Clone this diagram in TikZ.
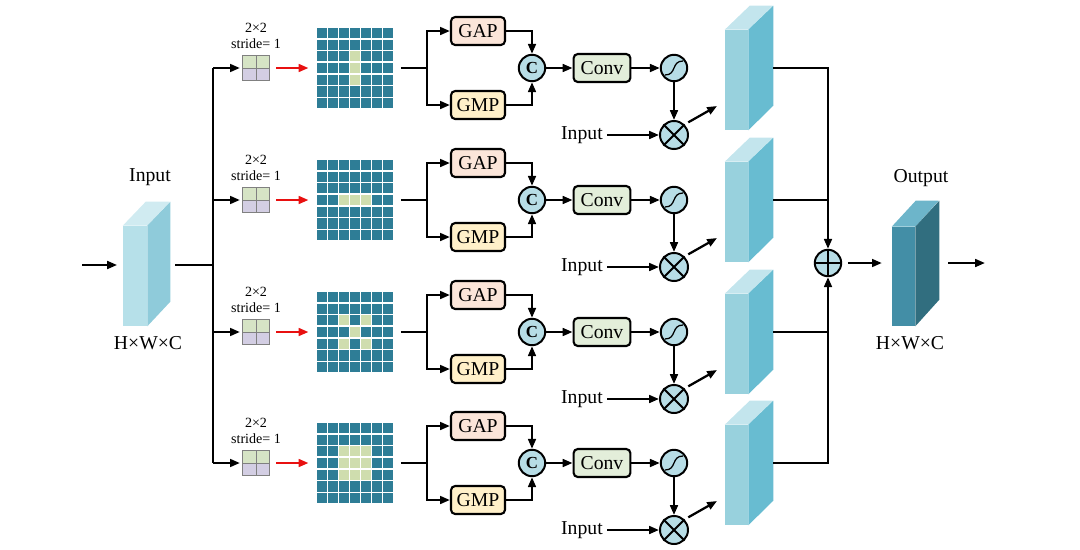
\documentclass[tikz,border=0pt]{standalone}
\usepackage{fontspec}
\setmainfont{Liberation Serif}
\usepackage{xcolor}
\usetikzlibrary{arrows.meta,calc}

\definecolor{gridteal}{HTML}{2E7D96}
\definecolor{hlgreen}{HTML}{CFDDAE}
\definecolor{circfill}{HTML}{B7DDE6}
\definecolor{gapfill}{HTML}{FBE5D9}
\definecolor{gmpfill}{HTML}{FFF0C9}
\definecolor{convfill}{HTML}{E3EEDA}
\definecolor{kertop}{HTML}{D6E4C5}
\definecolor{kerbot}{HTML}{D3CEE3}
\definecolor{inFront}{HTML}{B6E0E9}
\definecolor{inSide}{HTML}{8FCBDA}
\definecolor{inTop}{HTML}{D0EBF1}
\definecolor{featFront}{HTML}{98D1DD}
\definecolor{featSide}{HTML}{68BCD1}
\definecolor{featTop}{HTML}{C3E5ED}
\definecolor{outFront}{HTML}{438EA6}
\definecolor{outSide}{HTML}{316E7F}
\definecolor{outTop}{HTML}{6DB5CA}
\definecolor{redarrow}{HTML}{E81010}

\begin{document}
\begin{tikzpicture}[x=0.025cm,y=-0.025cm]
	\tikzstyle{every node}+=[inner sep=0pt, font=\fontsize{14}{16}\selectfont]
	\tikzstyle{ln}=[line width=1.6pt]
	\tikzstyle{arr}=[ln, -{Triangle[length=7pt,width=5.5pt]}]
	\tikzstyle{opbox}=[draw, line width=1.5pt, rounded corners=3pt, minimum width=1.35cm, minimum height=0.7cm]
	\tikzstyle{opcirc}=[draw, circle, line width=1.4pt, fill=circfill, minimum size=0.66cm]
	\tikzstyle{front}=[minimum width=0.575cm, minimum height=2.5cm]
	\tikzstyle{kernel}=[minimum width=0.65cm, minimum height=0.6cm]
	\tikzstyle{small}=[font=\fontsize{10}{11}\selectfont]
	\useasboundingbox (0,0) rectangle (1080,549);

	% input tensor
	\node[front, minimum width=0.6cm, fill=inFront] (inb) at (135,276) {};
	\fill[inTop] (inb.north west) -- ++(23,-24) -- ++(24,0) -- (inb.north east) -- cycle;
	\fill[inSide] (inb.north east) -- ++(23,-24) -- ++(0,100) -- (inb.south east) -- cycle;
	\node (inlab) at (150,177) {Input};
	\node (indim) at (148,343) {H×W×C};
	\coordinate (src) at (82,265);
	\coordinate (bus) at (213,265);
	\draw[arr, shorten >=4pt] (src) -- (src -| inb.west);
	\draw[ln] ($(bus -| inb.east)+(28,0)$) -- (bus);

	% four branches
	\foreach \i/\y/\hl in {0/68/{3/2,3/3,3/4},
	                       1/200/{2/3,3/3,4/3},
	                       2/332/{2/2,4/2,3/3,2/4,4/4},
	                       3/463/{2/2,3/2,4/2,2/3,3/3,4/3,2/4,3/4,4/4}} {
		\coordinate (b\i) at (213,\y);
		% 2x2 kernel
		\node[kernel] (k\i) at (256,\y) {};
		\fill[kertop] (k\i.north west) rectangle (k\i.east);
		\fill[kerbot] (k\i.west) rectangle (k\i.south east);
		\draw[gray, line width=0.6pt] (k\i.north west) rectangle (k\i.south east);
		\draw[gray, line width=0.6pt] (k\i.north) -- (k\i.south) (k\i.west) -- (k\i.east);
		\node[small] (kt\i) at (256,{\y-40}) {2×2};
		\node[small] (ks\i) at (256,{\y-24}) {stride= 1};
		\draw[arr, shorten >=2pt] (b\i) -- (k\i);
		% dilated grid
		\node[minimum width=1.925cm, minimum height=2.05cm] (g\i) at (355,\y) {};
		\foreach \c in {0,...,6}
			\foreach \r in {0,...,6}
				\fill[gridteal] ({355+(\c-3)*11-4.75},{\y+(\r-3)*11.7-5.1}) rectangle ++(9.5,10.2);
		\foreach \c/\r in \hl
			\fill[hlgreen] ({355+(\c-3)*11-4.75},{\y+(\r-3)*11.7-5.1}) rectangle ++(9.5,10.2);
		\draw[arr, redarrow, shorten <=5pt, shorten >=5.5pt] (k\i) -- (g\i);
		% channel attention
		\coordinate (sp\i) at (427,\y);
		\draw[ln, shorten <=5pt] (g\i) -- (sp\i);
		\node[opbox, fill=gapfill] (gap\i) at (478,{\y-37}) {GAP};
		\node[opbox, fill=gmpfill] (gmp\i) at (478,{\y+37}) {GMP};
		\draw[arr] (sp\i) |- (gap\i);
		\draw[arr] (sp\i) |- (gmp\i);
		\node[opcirc, font=\fontsize{12}{12}\selectfont\bfseries] (c\i) at (532,\y) {C};
		\draw[arr] (gap\i) -| (c\i);
		\draw[arr] (gmp\i) -| (c\i);
		\node[opbox, minimum width=1.42cm, fill=convfill] (cv\i) at (602,\y) {Conv};
		\draw[arr] (c\i) -- (cv\i);
		\node[opcirc] (s\i) at (674,\y) {};
		\draw[line width=0.9pt] ($(s\i)+(-9,7)$) .. controls ($(s\i)+(3,7)$) and ($(s\i)+(-3,-7)$) .. ($(s\i)+(9,-7)$);
		\draw[arr] (cv\i) -- (s\i);
		\node[opcirc, minimum size=0.7cm] (m\i) at (674,{\y+67}) {};
		\draw[line width=1.4pt] (m\i.45) -- (m\i.225) (m\i.135) -- (m\i.315);
		\draw[arr] (s\i) -- (m\i);
		\node[anchor=east] (ip\i) at (603,{\y+67}) {Input};
		\draw[arr, shorten <=3pt] (ip\i) -- (m\i);
		\coordinate (t\i) at (717,{\y+38});
		\draw[arr, shorten <=3pt] (m\i.45) -- (t\i);
		% weighted feature
		\node[front, fill=featFront] (f\i) at (736.5,{\y+12}) {};
		\fill[featTop] (f\i.north west) -- ++(25,-24) -- ++(23,0) -- (f\i.north east) -- cycle;
		\fill[featSide] (f\i.north east) -- ++(25,-24) -- ++(0,100) -- (f\i.south east) -- cycle;
		\coordinate (o\i) at (773,\y);
	}
	\draw[ln] (b0) -- (b3);

	% fusion
	\node[opcirc] (sum) at (828,263) {};
	\draw[line width=1.4pt] (sum.north) -- (sum.south) (sum.west) -- (sum.east);
	\draw[arr] (o0) -| (sum.north);
	\draw[arr] (o3) -| (sum.south);
	\draw[ln] (o1) -- (o1 -| sum);
	\draw[ln] (o2) -- (o2 -| sum);

	% output tensor
	\node[front, minimum height=2.475cm, fill=outFront] (outb) at (903.5,276.5) {};
	\fill[outTop] (outb.north west) -- ++(24,-26) -- ++(23,0) -- (outb.north east) -- cycle;
	\fill[outSide] (outb.north east) -- ++(24,-26) -- ++(0,99) -- (outb.south east) -- cycle;
	\node (outlab) at (921,178) {Output};
	\node (outdim) at (910,343) {H×W×C};
	\draw[arr, shorten <=4pt, shorten >=7pt] (sum) -- (sum -| outb.west);
	\coordinate (sink) at (985,263);
	\draw[arr] ($(sum -| outb.east)+(33,0)$) -- (sink);
\end{tikzpicture}
\end{document}
